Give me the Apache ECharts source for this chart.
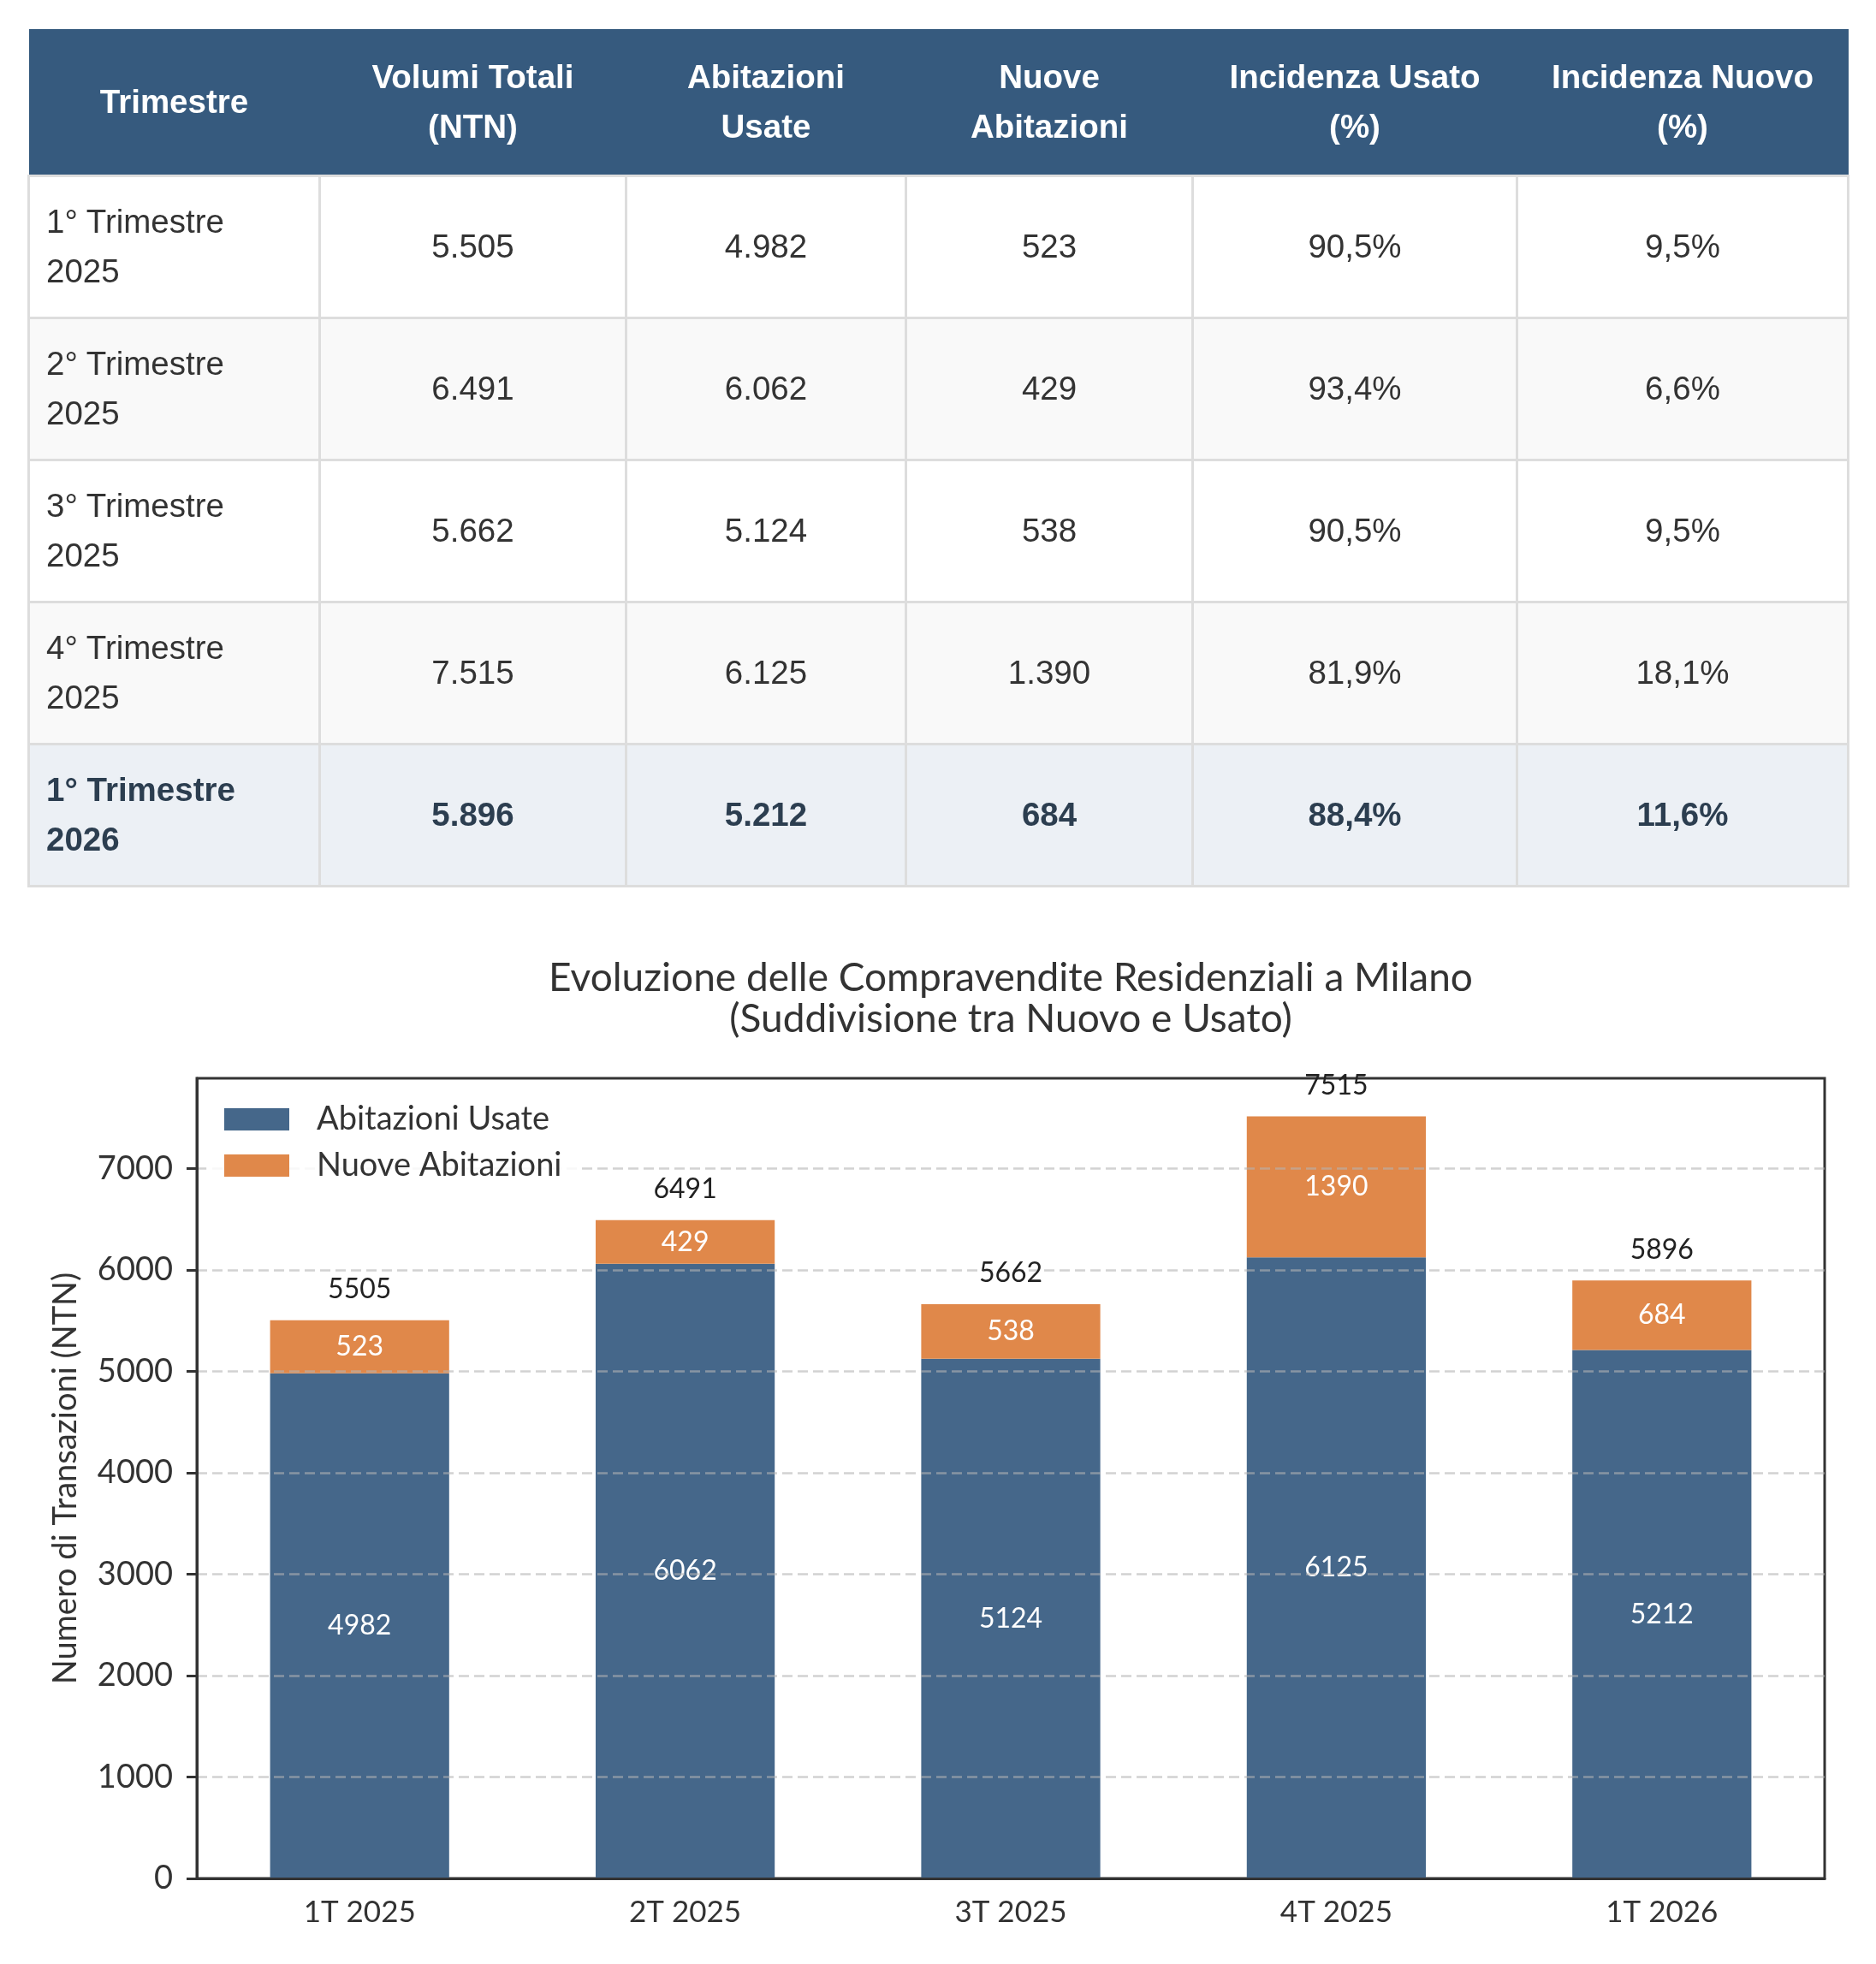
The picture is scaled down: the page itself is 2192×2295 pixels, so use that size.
<!DOCTYPE html>
<html>
<head>
<meta charset="utf-8">
<script src="https://cdn.jsdelivr.net/npm/echarts@6/dist/echarts.min.js"></script>
<style>
  html, body { margin:0; padding:0; background:#fff; }
  #chart { position:absolute; left:0; top:0; width:2192px; height:2295px; }
  #tbl { position:absolute; left:32px; top:34px; width:2126px; border-collapse:collapse; table-layout:fixed;
         font-family:"Liberation Sans", Arial, sans-serif; font-size:38.5px; line-height:58px; color:#333; z-index:2; }
  #tbl th { background:#365a7e; color:#fff; font-weight:bold; text-align:center; vertical-align:middle;
            height:171px; padding:0 10px; border:none; box-sizing:border-box; }
  #tbl td { border:3px solid #dddddd; text-align:center; vertical-align:middle; height:166px; padding:0 20px; box-sizing:border-box; }
  #tbl td.first { text-align:left; padding-left:19px; }
  #tbl tr.alt td { background:#f9f9f9; }
  #tbl tr.hl td { background:#ecf0f5; font-weight:bold; color:#2c3e50; }
</style>
</head>
<body>
<div id="chart"></div>
<table id="tbl"></table>
<script>
// ---- data ----
const tableHeaders = ['Trimestre', 'Volumi Totali<br>(NTN)', 'Abitazioni<br>Usate', 'Nuove<br>Abitazioni', 'Incidenza Usato<br>(%)', 'Incidenza Nuovo<br>(%)'];
const trimestri = ['1° Trimestre 2025', '2° Trimestre 2025', '3° Trimestre 2025', '4° Trimestre 2025', '1° Trimestre 2026'];
const volumiTotali = [5505, 6491, 5662, 7515, 5896];
const abitazioniUsate = [4982, 6062, 5124, 6125, 5212];
const nuoveAbitazioni = [523, 429, 538, 1390, 684];
const incidenzaUsato = [90.5, 93.4, 90.5, 81.9, 88.4];
const incidenzaNuovo = [9.5, 6.6, 9.5, 18.1, 11.6];

const categories = ['1T 2025', '2T 2025', '3T 2025', '4T 2025', '1T 2026'];
const yTicks = [0, 1000, 2000, 3000, 4000, 5000, 6000, 7000];
const chartTitle = 'Evoluzione delle Compravendite Residenziali a Milano\n(Suddivisione tra Nuovo e Usato)';
const yName = 'Numero di Transazioni (NTN)';

// ---- table ----
function fmtInt(n) { return String(n).replace(/\B(?=(\d{3})+(?!\d))/g, '.'); }
function fmtPct(v) { return v.toFixed(1).replace('.', ',') + '%'; }
const colW = [340, 358, 327, 335, 379, 387];
let html = '<colgroup>' + colW.map(w => '<col style="width:' + w + 'px">').join('') + '</colgroup>';
html += '<tr>' + tableHeaders.map(h => '<th>' + h + '</th>').join('') + '</tr>';
trimestri.forEach((t, i) => {
  const cls = i === trimestri.length - 1 ? 'hl' : (i % 2 === 1 ? 'alt' : '');
  const lbl = t.replace(/ (\d{4})$/, '<br>$1');
  html += '<tr class="' + cls + '"><td class="first">' + lbl + '</td><td>' + fmtInt(volumiTotali[i]) + '</td><td>' +
    fmtInt(abitazioniUsate[i]) + '</td><td>' + fmtInt(nuoveAbitazioni[i]) + '</td><td>' + fmtPct(incidenzaUsato[i]) +
    '</td><td>' + fmtPct(incidenzaNuovo[i]) + '</td></tr>';
});
document.getElementById('tbl').innerHTML = html;

// ---- chart ----
const FONT = 'Lato, "Open Sans", sans-serif';
const maxY = Math.max(...volumiTotali) * 1.05;
const chart = echarts.init(document.getElementById('chart'), null, { renderer: 'canvas' });
chart.setOption({
  animation: false,
  backgroundColor: '#fff',
  textStyle: { fontFamily: FONT },
  graphic: [{
    type: 'text', x: 1181, y: 1119, z: 20,
    style: { text: chartTitle, textAlign: 'center', textVerticalAlign: 'top', fontFamily: FONT,
             fontSize: 46, lineHeight: 48, fill: '#333' }
  }],
  grid: { left: 230, top: 1260, width: 1902, height: 935, show: true, borderColor: '#333', borderWidth: 3, backgroundColor: 'transparent' },
  legend: {
    data: ['Abitazioni Usate', 'Nuove Abitazioni'],
    orient: 'vertical', left: 241, top: 1265, padding: [20, 20, 20, 21], itemGap: 8,
    itemWidth: 76, itemHeight: 26, icon: 'rect', backgroundColor: 'rgba(255,255,255,0.85)', z: 12,
    textStyle: { fontFamily: FONT, fontSize: 38, color: '#333', lineHeight: 46, padding: [0, 0, 0, 27] }
  },
  xAxis: {
    type: 'category', data: categories, boundaryGap: true, z: 6,
    axisLine: { lineStyle: { color: '#333', width: 3 } },
    axisTick: { alignWithLabel: true, length: 12, lineStyle: { color: '#333', width: 3 } },
    axisLabel: { fontFamily: FONT, fontSize: 35, color: '#333', margin: 22 }
  },
  yAxis: {
    type: 'value', min: 0, max: maxY, interval: 1000, z: 5,
    name: yName, nameLocation: 'middle', nameRotate: 90, nameGap: 134,
    nameTextStyle: { fontFamily: FONT, fontSize: 38, color: '#333' },
    axisLine: { show: true, lineStyle: { color: '#333', width: 3 } },
    axisTick: { show: true, length: 12, lineStyle: { color: '#333', width: 3 }, customValues: yTicks },
    axisLabel: { fontFamily: FONT, fontSize: 38, color: '#333', margin: 28, customValues: yTicks,
                 formatter: v => String(Math.round(v)) },
    splitLine: { show: true, lineStyle: { color: 'rgba(180,180,180,0.6)', width: 2.5, type: [12, 6] } }
  },
  series: [
    {
      name: 'Abitazioni Usate', type: 'bar', stack: 'tot', data: abitazioniUsate, barWidth: '55%',
      itemStyle: { color: '#45678a' },
      label: { show: true, position: 'inside', color: '#fff', fontFamily: FONT, fontSize: 32 }
    },
    {
      name: 'Nuove Abitazioni', type: 'bar', stack: 'tot', data: nuoveAbitazioni, barWidth: '55%',
      itemStyle: { color: '#e0884a' },
      label: { show: true, position: 'inside', color: '#fff', fontFamily: FONT, fontSize: 32 }
    },
    {
      name: 'Totale', type: 'scatter', data: volumiTotali, symbol: 'circle', symbolSize: 2, z: 8, silent: true,
      itemStyle: { color: 'rgba(255,255,255,0)' },
      label: { show: true, position: 'top', distance: 19, color: '#222', opacity: 1, fontFamily: FONT, fontSize: 32 }
    }
  ]
});
</script>
</body>
</html>
